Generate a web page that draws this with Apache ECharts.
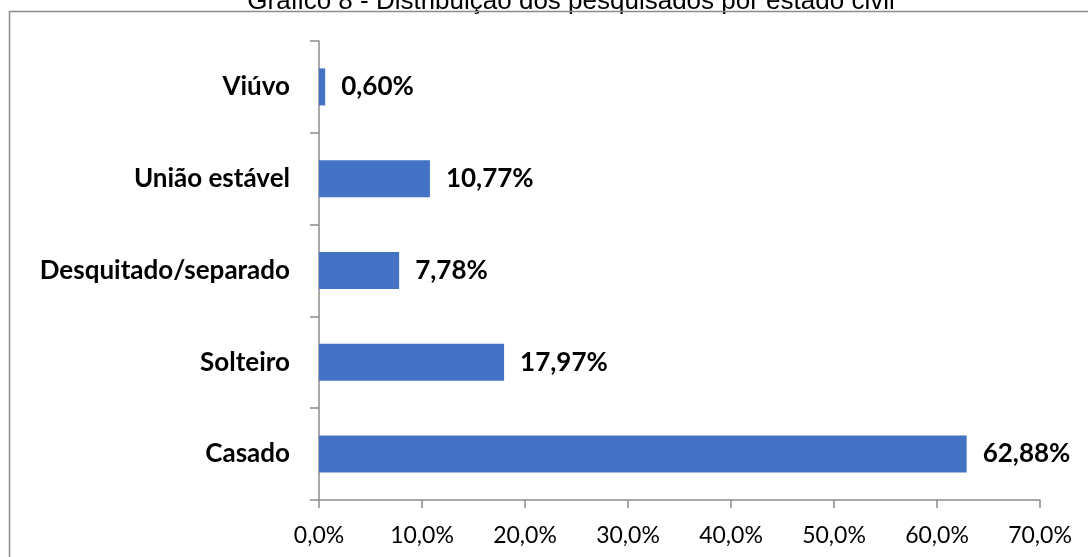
<!DOCTYPE html>
<html>
<head>
<meta charset="utf-8">
<script src="https://cdn.jsdelivr.net/npm/echarts@6/dist/echarts.min.js"></script>
<style>
    html, body { margin: 0; padding: 0; background: #fff; }
    #chart { width: 1088px; height: 557px; }
</style>
</head>
<body>
<div id="chart"></div>
<script>
    // estado civil, de baixo para cima
    var categorias = ['Casado', 'Solteiro', 'Desquitado/separado', 'União estável', 'Viúvo'];
    var percentuais = [62.88, 17.97, 7.78, 10.77, 0.60];
    var titulo = 'Gráfico 8 - Distribuição dos pesquisados por estado civil';

    var chart = echarts.init(document.getElementById('chart'));
    var fonte = 'Lato, "Open Sans", sans-serif';

    var option = {
        animation: false,
        backgroundColor: '#fff',
        graphic: [
            {
                type: 'text', x: 571, y: -11,
                style: { text: titulo, font: '26px "Liberation Sans", Arial, sans-serif', fill: '#000', align: 'center' }
            },
            {
                type: 'polyline',
                shape: { points: [[9.5, 557], [9.5, 11.5], [1088, 11.5]] },
                style: { stroke: '#8c8c8c', lineWidth: 1.5, fill: null }
            }
        ],
        grid: { left: 319, right: 48, top: 41, bottom: 57 },
        xAxis: {
            type: 'value', min: 0, max: 70, interval: 10,
            axisLine: { show: true, lineStyle: { color: '#8c8c8c', width: 1.5 } },
            axisTick: { show: true, length: 8, lineStyle: { color: '#8c8c8c', width: 1.5 } },
            splitLine: { show: false },
            axisLabel: {
                margin: 24, color: '#000', fontSize: 23, fontFamily: fonte,
                formatter: function (v) { return v.toFixed(1).replace('.', ',') + '%'; }
            }
        },
        yAxis: {
            type: 'category', data: categorias,
            axisLine: { lineStyle: { color: '#8c8c8c', width: 1.5 } },
            axisTick: { show: true, length: 9, lineStyle: { color: '#8c8c8c', width: 1.5 } },
            axisLabel: { margin: 29, color: '#000', fontSize: 26, fontWeight: 'bold', fontFamily: fonte }
        },
        series: [{
            type: 'bar', data: percentuais, barWidth: 37,
            itemStyle: { color: '#4472C4' },
            label: {
                show: true, position: 'right', distance: 16,
                color: '#000', fontSize: 26, fontWeight: 'bold', fontFamily: fonte,
                formatter: function (p) { return p.value.toFixed(2).replace('.', ',') + '%'; }
            }
        }]
    };
    chart.setOption(option);
</script>
</body>
</html>
